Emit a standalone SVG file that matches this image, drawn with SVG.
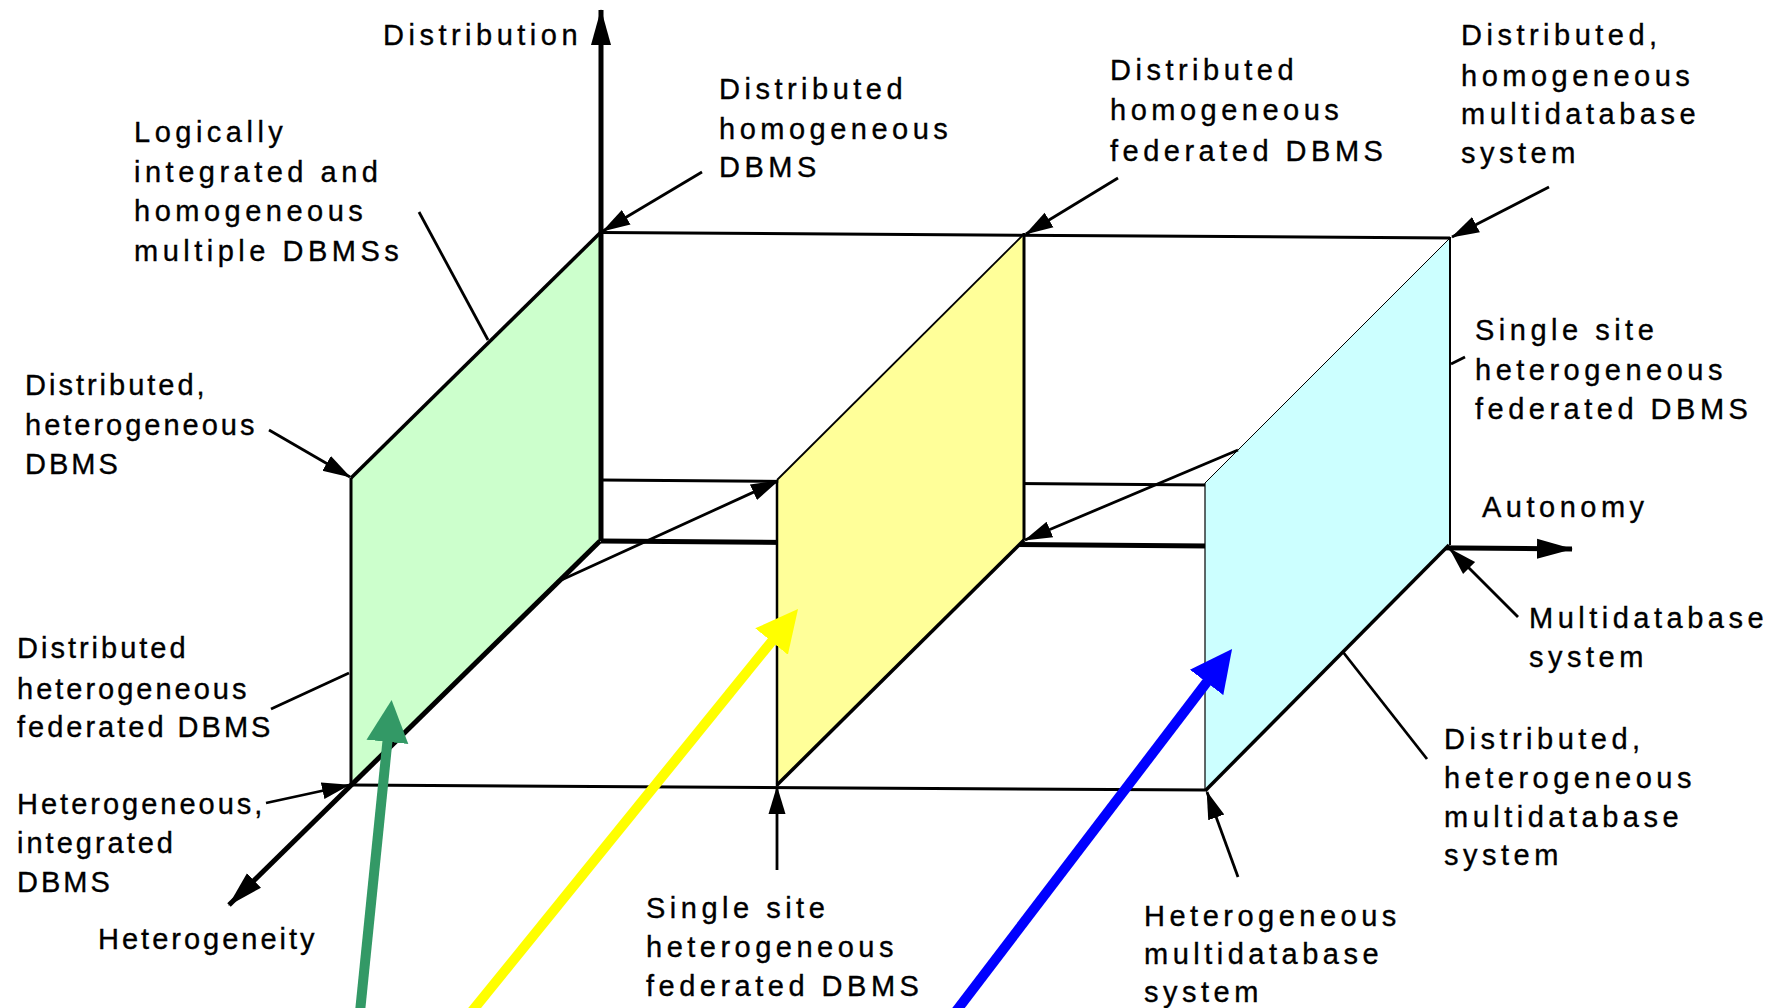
<svg xmlns="http://www.w3.org/2000/svg" width="1776" height="1008" viewBox="0 0 1776 1008">
<style>
  text { font-family: "Liberation Sans", Arial, Helvetica, sans-serif; font-size: 29px; letter-spacing: 4.5px; fill: #000; stroke: #000; stroke-width: 0.35px; }
  .tight text { letter-spacing: 3px; }
  .ln { stroke: #000; fill: none; stroke-linecap: butt; }
  .lead { stroke: #000; stroke-width: 2.8; fill: none; }
  .arr { stroke: #000; stroke-width: 2.8; fill: none; marker-end: url(#ah); }
  .axis { stroke: #000; stroke-width: 5; fill: none; marker-end: url(#axh); }
</style>
<defs>
  <marker id="ah" markerUnits="userSpaceOnUse" markerWidth="30" markerHeight="20" viewBox="0 -10 30 20" refX="27" refY="0" orient="auto">
    <path d="M0,-8.5 L28,0 L0,8.5 z" fill="#000"/>
  </marker>
  <marker id="axh" markerUnits="userSpaceOnUse" markerWidth="38" markerHeight="24" viewBox="0 -12 38 24" refX="35" refY="0" orient="auto">
    <path d="M0,-10 L36,0 L0,10 z" fill="#000"/>
  </marker>
  <marker id="hg" markerUnits="userSpaceOnUse" markerWidth="44" markerHeight="44" viewBox="0 -22 44 44" refX="1" refY="0" orient="auto">
    <path d="M0,-21 L42,0 L0,21 z" fill="#339966"/>
  </marker>
  <marker id="hy" markerUnits="userSpaceOnUse" markerWidth="44" markerHeight="44" viewBox="0 -22 44 44" refX="1" refY="0" orient="auto">
    <path d="M0,-21 L42,0 L0,21 z" fill="#ffff00"/>
  </marker>
  <marker id="hb" markerUnits="userSpaceOnUse" markerWidth="44" markerHeight="44" viewBox="0 -22 44 44" refX="1" refY="0" orient="auto">
    <path d="M0,-21 L42,0 L0,21 z" fill="#0000ff"/>
  </marker>
</defs>
<rect width="1776" height="1008" fill="#fff"/>

<g id="back-lines">
  <line class="ln" x1="601" y1="232.5" x2="1450" y2="238" stroke-width="3"/>
  <line class="ln" x1="601" y1="480" x2="1205" y2="485" stroke-width="3"/>
  <line class="axis" x1="601" y1="541" x2="1572" y2="549"/>
  <line class="ln" x1="351" y1="785" x2="1205" y2="790" stroke-width="3"/>
</g>

<g id="panel-green">
  <polygon points="351,478 600,232 600,541 351,784" fill="#ccffcc"/>
  <line class="ln" x1="351" y1="478" x2="351" y2="784" stroke-width="3"/>
  <line class="ln" x1="351" y1="478" x2="601" y2="232" stroke-width="3.5"/>
</g>
<g id="panel-yellow">
  <polygon points="777,480 1024,234 1024,540 777,784" fill="#ffff99"/>
  <line class="ln" x1="777" y1="480" x2="777" y2="786" stroke-width="2.5"/>
  <line class="ln" x1="777" y1="480" x2="1024" y2="234" stroke-width="1.8"/>
  <line class="ln" x1="1024" y1="233" x2="1024" y2="540" stroke-width="3"/>
  <line class="ln" x1="1024" y1="540" x2="777" y2="785" stroke-width="3.5"/>
</g>
<g id="panel-cyan">
  <polygon points="1205,483 1450,238 1449,544 1205,790" fill="#ccffff"/>
  <line class="ln" x1="1205" y1="483" x2="1205" y2="790" stroke-width="1.2" stroke="#555"/>
  <line class="ln" x1="1205" y1="483" x2="1450" y2="238" stroke-width="1" stroke="#8aa"/>
  <line class="ln" x1="1450" y1="237" x2="1450" y2="545" stroke-width="2"/>
  <line class="ln" x1="1449" y1="545" x2="1205" y2="791" stroke-width="3.5"/>
</g>

<g id="axes">
  <line class="axis" x1="601" y1="541" x2="601" y2="10"/>
  <line class="axis" x1="600" y1="541" x2="229" y2="905" stroke-width="4.5"/>
</g>

<g id="labels">
  <g id="lbl-distribution"><text x="383" y="45">Distribution</text></g>
  <g id="lbl-logically">
    <text x="134" y="142">Logically</text>
    <text x="134" y="181.5">integrated and</text>
    <text x="134" y="221">homogeneous</text>
    <text x="134" y="260.5">multiple DBMSs</text>
  </g>
  <g id="lbl-dist-homog-dbms">
    <text x="719" y="99">Distributed</text>
    <text x="719" y="138.5">homogeneous</text>
    <text x="719" y="177">DBMS</text>
  </g>
  <g id="lbl-dist-homog-fed">
    <text x="1110" y="80">Distributed</text>
    <text x="1110" y="120">homogeneous</text>
    <text x="1110" y="161">federated DBMS</text>
  </g>
  <g id="lbl-dist-homog-multi">
    <text x="1461" y="45">Distributed,</text>
    <text x="1461" y="85.5">homogeneous</text>
    <text x="1461" y="124">multidatabase</text>
    <text x="1461" y="163">system</text>
  </g>
  <g id="lbl-single-fed-right">
    <text x="1475" y="340">Single site</text>
    <text x="1475" y="380">heterogeneous</text>
    <text x="1475" y="419">federated DBMS</text>
  </g>
  <g id="lbl-autonomy"><text x="1482" y="517">Autonomy</text></g>
  <g id="lbl-multidatabase">
    <text x="1529" y="628">Multidatabase</text>
    <text x="1529" y="667">system</text>
  </g>
  <g id="lbl-dist-het-multi">
    <text x="1444" y="749">Distributed,</text>
    <text x="1444" y="788">heterogeneous</text>
    <text x="1444" y="827">multidatabase</text>
    <text x="1444" y="865">system</text>
  </g>
  <g id="lbl-het-multi">
    <text x="1144" y="926">Heterogeneous</text>
    <text x="1144" y="964">multidatabase</text>
    <text x="1144" y="1002">system</text>
  </g>
  <g id="lbl-single-fed-bottom">
    <text x="646" y="918">Single site</text>
    <text x="646" y="957">heterogeneous</text>
    <text x="646" y="996">federated DBMS</text>
  </g>
  <g id="lbl-heterogeneity" class="tight"><text x="98" y="949">Heterogeneity</text></g>
  <g id="lbl-het-integrated" class="tight">
    <text x="17" y="814">Heterogeneous,</text>
    <text x="17" y="853">integrated</text>
    <text x="17" y="892">DBMS</text>
  </g>
  <g id="lbl-dist-het-fed" class="tight">
    <text x="17" y="658">Distributed</text>
    <text x="17" y="699">heterogeneous</text>
    <text x="17" y="737">federated DBMS</text>
  </g>
  <g id="lbl-dist-het-dbms" class="tight">
    <text x="25" y="395">Distributed,</text>
    <text x="25" y="435">heterogeneous</text>
    <text x="25" y="474">DBMS</text>
  </g>
</g>

<g id="connectors">
  <line class="lead" x1="419" y1="212" x2="488" y2="340"/>
  <line class="arr" x1="702" y1="172" x2="603" y2="231"/>
  <line class="arr" x1="1118" y1="178" x2="1026" y2="234"/>
  <line class="arr" x1="1549" y1="187" x2="1452" y2="237"/>
  <line class="lead" x1="1451" y1="364" x2="1465" y2="357"/>
  <line class="arr" x1="1518" y1="617" x2="1450" y2="549"/>
  <line class="lead" x1="1427" y1="759" x2="1343" y2="652"/>
  <line class="arr" x1="1238" y1="877" x2="1207" y2="792"/>
  <line class="arr" x1="777" y1="870" x2="777" y2="787"/>
  <line class="arr" x1="266" y1="803" x2="349" y2="785"/>
  <line class="lead" x1="271" y1="709" x2="349" y2="673"/>
  <line class="arr" x1="269" y1="430" x2="350" y2="477"/>
  <line class="arr" x1="557" y1="582" x2="778" y2="481"/>
  <line class="arr" x1="1238" y1="450" x2="1025" y2="540"/>
  <line x1="360" y1="1012" x2="387.5" y2="740.8" stroke="#339966" stroke-width="10" marker-end="url(#hg)"/>
  <line x1="471.4" y1="1012" x2="772.2" y2="640.8" stroke="#ffff00" stroke-width="10" marker-end="url(#hy)"/>
  <line x1="955.5" y1="1012" x2="1207.2" y2="681.6" stroke="#0000ff" stroke-width="10" marker-end="url(#hb)"/>
</g>
</svg>
